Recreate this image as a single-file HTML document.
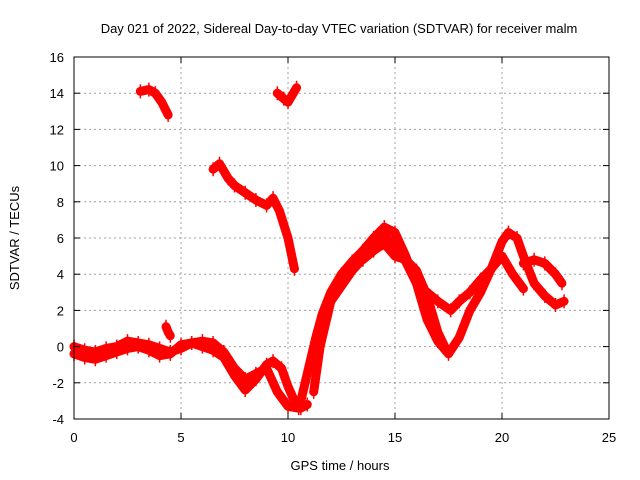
<!DOCTYPE html>
<html><head><meta charset="utf-8"><style>
body{margin:0;background:#fff}
svg{display:block;font-family:"Liberation Sans",sans-serif}
</style></head><body>
<svg id="chart" width="640" height="480" viewBox="0 0 640 480" xmlns="http://www.w3.org/2000/svg">
<text x="339" y="33" font-size="13" text-anchor="middle">Day 021 of 2022, Sidereal Day-to-day VTEC variation (SDTVAR) for receiver malm</text>
<text x="340" y="470" font-size="13" text-anchor="middle">GPS time / hours</text>
<text x="19" y="238" font-size="13" text-anchor="middle" transform="rotate(-90 19 238)">SDTVAR / TECUs</text>
<g id="grid"></g>
<g id="marks"></g>
<rect x="74" y="57" width="535" height="362" fill="none" stroke="#000" stroke-width="1"/>
<g id="ticks"></g>
</svg>
<script>
const xTicks=[0,5,10,15,20,25];
const yTicks=[-4,-2,0,2,4,6,8,10,12,14,16];
const seriesLowA=[[0,0],[0.5,-0.2],[1,-0.3],[1.5,-0.1],[2,0],[2.5,0.3],[3,0.2],[3.5,0.1],[4,-0.1],[4.5,-0.3],[5,-0.1],[5.5,0.2],[6,0.3],[6.5,0.2],[7,-0.3],[7.5,-1.2],[8,-1.8],[8.5,-1.5],[9,-1.2],[9.5,-2.5],[10,-3.3],[10.5,-3.4]];
const seriesLowB=[[0,-0.4],[0.5,-0.6],[1,-0.7],[1.5,-0.5],[2,-0.3],[2.5,-0.1],[3,0],[3.5,-0.2],[4,-0.5],[4.5,-0.4],[5,0.1],[5.5,0.2],[6,0],[6.5,-0.2],[7,-0.6],[7.5,-1.6],[8,-2.4],[8.5,-1.8],[9,-1.0],[9.3,-0.8],[9.7,-1.2],[10,-2.2],[10.3,-3.0],[10.6,-3.4],[10.9,-3.2]];
const seriesBlip=[[4.3,1.1],[4.4,0.8],[4.5,0.6]];
const seriesRiseA=[[10.6,-3],[10.8,-2],[11,-1],[11.3,0.5],[11.6,1.8],[12,3],[12.5,4],[13,4.7],[13.5,5.3],[14,6.0],[14.5,6.6],[15,6.3],[15.5,5],[16,3.5],[16.5,1.5],[17,0.3],[17.5,-0.4],[18,0.5],[18.5,2],[19,3],[19.5,4.3],[20,5.8],[20.3,6.3],[20.7,6],[21,5],[21.5,3.5],[22,2.8],[22.5,2.3],[22.9,2.5]];
const seriesRiseB=[[11.2,-2.5],[11.5,0],[11.8,1.5],[12,2.5],[13,4.2],[14,5.5],[14.5,6.2],[15,5.5],[15.5,4.7],[16,3.5],[16.5,3],[17,2.5],[17.6,2],[18,2.5],[18.5,3],[19,3.7],[19.5,4.3],[20,5],[20.5,4],[21,3.2]];
const seriesMidC=[[13.5,4.8],[14,5.3],[14.5,5.7],[15,5],[15.5,4.8],[16,4.2],[16.5,2.8],[17,0.8],[17.4,-0.2]];
const seriesTail=[[21,4.6],[21.5,4.8],[22,4.6],[22.5,4],[22.8,3.5]];
const seriesTop1=[[3.1,14.1],[3.5,14.2],[3.8,14.0],[4.1,13.5],[4.4,12.8]];
const seriesTop2=[[9.5,14.0],[9.8,13.7],[10,13.5],[10.2,13.9],[10.4,14.3]];
const seriesDesc=[[6.5,9.8],[6.8,10.1],[7.2,9.3],[7.5,8.9],[8,8.5],[8.5,8.1],[9,7.8],[9.3,8.2],[9.6,7.5],[10,6],[10.3,4.3]];
const allSeries=[seriesLowA,seriesLowB,seriesBlip,seriesRiseA,seriesRiseB,seriesMidC,seriesTail,seriesTop1,seriesTop2,seriesDesc];
const NS="http://www.w3.org/2000/svg";
const X0=74,X1=609,Y0=419,Y1=57;
function sx(v){return X0+(v-0)/(25-0)*(X1-X0);}
function sy(v){return Y0-(v+4)/(16+4)*(Y0-Y1);}
const grid=document.getElementById('grid'),ticks=document.getElementById('ticks'),marks=document.getElementById('marks');
function mk(tag,attrs,parent){const e=document.createElementNS(NS,tag);for(const k in attrs)e.setAttribute(k,attrs[k]);parent.appendChild(e);return e;}
xTicks.forEach(t=>{const x=sx(t);
 if(t>0&&t<25){const g=mk('line',{x1:x,x2:x,y1:Y1,y2:Y0,stroke:'#a0a0a0','stroke-dasharray':'2,3'},grid);
 
 }
 const l=mk('text',{x:x,y:Y0+23,'font-size':13,'text-anchor':'middle'},ticks);l.textContent=t;
 
 
 mk('line',{x1:x,x2:x,y1:Y0,y2:Y0-6,stroke:'#000'},ticks);mk('line',{x1:x,x2:x,y1:Y1,y2:Y1+6,stroke:'#000'},ticks);});
yTicks.forEach(t=>{const y=sy(t);
 if(t>-4&&t<16){const g=mk('line',{x1:X0,x2:X1,y1:y,y2:y,stroke:'#a0a0a0','stroke-dasharray':'2,3'},grid);
 
 }
 const l=mk('text',{x:X0-10,y:y+5,'font-size':13,'text-anchor':'end'},ticks);l.textContent=t;
 
 
 mk('line',{x1:X0,x2:X0+6,y1:y,y2:y,stroke:'#000'},ticks);mk('line',{x1:X1,x2:X1-6,y1:y,y2:y,stroke:'#000'},ticks);});
allSeries.forEach(s=>{
 const pts=s.map(p=>sx(p[0])+','+sy(p[1])).join(' ');
 const pl=mk('polyline',{points:pts,fill:'none',stroke:'#ff0000','stroke-width':9,'stroke-linejoin':'round','stroke-linecap':'round'},marks);
 
 
 s.forEach(p=>{const x=sx(p[0]),y=sy(p[1]);
  const m=mk('path',{d:`M${x-4},${y}H${x+4}M${x},${y-7}V${y+7}`,stroke:'#ff0000','stroke-width':1.5},marks);
  
  });
});
</script>
</body></html>
